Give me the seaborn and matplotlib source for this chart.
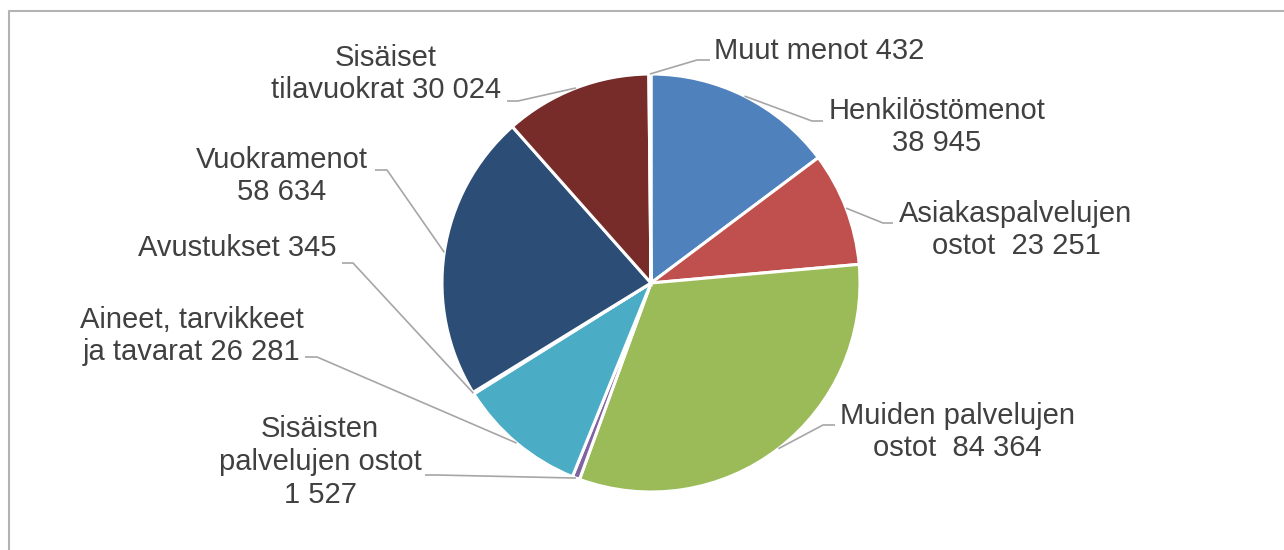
import matplotlib
matplotlib.use("Agg")
import numpy as np
import matplotlib.pyplot as plt
from matplotlib.lines import Line2D
import seaborn as sns

# Expense categories (clockwise from 12 o'clock) and their amounts
categories = [
    "Henkilöstömenot",
    "Asiakaspalvelujen ostot",
    "Muiden palvelujen ostot",
    "Sisäisten palvelujen ostot",
    "Aineet, tarvikkeet ja tavarat",
    "Avustukset",
    "Vuokramenot",
    "Sisäiset tilavuokrat",
    "Muut menot",
]
values = [38945, 23251, 84364, 1527, 26281, 345, 58634, 30024, 432]

# Label text templates, value inserted in Finnish thousands format
label_templates = [
    "Henkilöstömenot\n{}",
    "Asiakaspalvelujen\nostot  {}",
    "Muiden palvelujen\nostot  {}",
    "Sisäisten\npalvelujen ostot\n{}",
    "Aineet, tarvikkeet\nja tavarat {}",
    "Avustukset {}",
    "Vuokramenot\n{}",
    "Sisäiset\ntilavuokrat {}",
    "Muut menot {}",
]

slice_colors = ["#4F81BD", "#C0504D", "#9BBB59", "#8064A2", "#4BACC6",
                "#F79646", "#2C4D75", "#772C2A", "#5F7530"]

W, H = 1284, 550
CX, CY, R = 651, 283, 209

# Label layout in pixel space (y measured from the top):
# text centre, text alignment, elbow point of the leader and the end
# of the short horizontal tick next to the text
label_layout = [
    dict(xy=(937, 127), ha="center", elbow=(812, 121), end=(823, 121)),
    dict(xy=(1016, 230), ha="center", elbow=(883, 223), end=(893, 223)),
    dict(xy=(957, 432), ha="center", elbow=(823, 425), end=(835, 425)),
    dict(xy=(320, 462), ha="center", elbow=(437, 475), end=(425, 475)),
    dict(xy=(192, 336), ha="center", elbow=(317, 357), end=(305, 357)),
    dict(xy=(237, 248), ha="center", elbow=(353, 263), end=(342, 263)),
    dict(xy=(282, 176), ha="center", elbow=(387, 170), end=(375, 170)),
    dict(xy=(386, 74), ha="center", elbow=(518, 101), end=(507, 101)),
    dict(xy=(714, 51), ha="left", elbow=(697, 60), end=(710, 60)),
]


def fmt_fi(v):
    return f"{v:,}".replace(",", " ")


sns.set_theme(style="white")
plt.rcParams["font.family"] = ["Liberation Sans", "DejaVu Sans"]

fig = plt.figure(figsize=(W / 100, H / 100), dpi=100)
fig.patch.set_facecolor("white")
ax = fig.add_axes([0, 0, 1, 1])

palette = sns.color_palette(slice_colors)
ax.pie(values, colors=palette, startangle=90, counterclock=False,
       center=(CX, H - CY), radius=R,
       wedgeprops=dict(edgecolor="white", linewidth=2.2))
ax.set_xlim(0, W)
ax.set_ylim(0, H)
ax.set_aspect("equal")
ax.axis("off")

total = float(sum(values))
starts = np.concatenate([[0.0], np.cumsum(values)[:-1]]) / total * 360.0
spans = np.array(values) / total * 360.0

text_color = "#404040"
leader_color = "#A6A6A6"

for i, (tmpl, v) in enumerate(zip(label_templates, values)):
    lay = label_layout[i]
    theta = np.deg2rad(starts[i] + 0.5 * spans[i])
    px = CX + R * np.sin(theta)
    py = CY - R * np.cos(theta)
    xs = [px, lay["elbow"][0], lay["end"][0]]
    ys = [H - py, H - lay["elbow"][1], H - lay["end"][1]]
    ax.plot(xs, ys, color=leader_color, lw=1.2, solid_capstyle="butt", zorder=3)
    ax.text(lay["xy"][0], H - lay["xy"][1], tmpl.format(fmt_fi(v)),
            ha=lay["ha"], va="center", multialignment="center",
            fontsize=21, color=text_color, linespacing=1.22, zorder=4)

# Chart area border (top and left edges visible)
fig.add_artist(Line2D([8.5 / W, 8.5 / W, 1.0], [0.0, 1 - 10.5 / H, 1 - 10.5 / H],
                      transform=fig.transFigure, color="#B3B3B3", lw=1.5))

fig.savefig("out.png", dpi=100, facecolor="white")
